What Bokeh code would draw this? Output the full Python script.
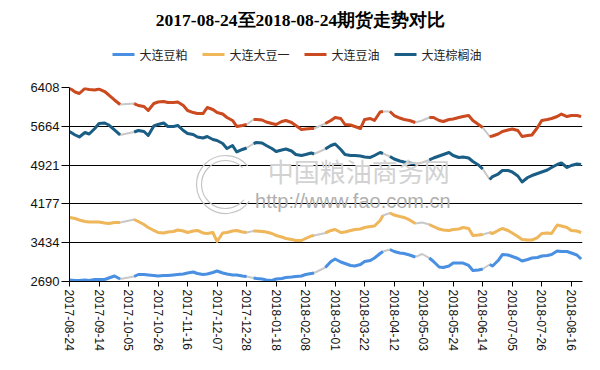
import pandas as pd
from bokeh.plotting import figure
from bokeh.layouts import column
from bokeh.models import (FixedTicker, DatetimeTickFormatter, Label, Range1d)
from bokeh.core.properties import value
from bokeh.embed import file_html
from bokeh.resources import INLINE

# ---------------- data ----------------
title_text = "2017-08-24至2018-08-24期货走势对比"
series_names = ["大连豆粕", "大连大豆一", "大连豆油", "大连棕榈油"]

dates = [
    "2017-08-24", "2017-08-28", "2017-08-31", "2017-09-04", "2017-09-07", "2017-09-11",
    "2017-09-14", "2017-09-18", "2017-09-21", "2017-09-25", "2017-09-29",
    "2017-10-09", "2017-10-12", "2017-10-16", "2017-10-19", "2017-10-23", "2017-10-26",
    "2017-10-30", "2017-11-02", "2017-11-06", "2017-11-09", "2017-11-13", "2017-11-16",
    "2017-11-20", "2017-11-23", "2017-11-27", "2017-11-30", "2017-12-04", "2017-12-07",
    "2017-12-11", "2017-12-14", "2017-12-18", "2017-12-21", "2017-12-25", "2017-12-28",
    "2018-01-02", "2018-01-04", "2018-01-08", "2018-01-11", "2018-01-15", "2018-01-18",
    "2018-01-22", "2018-01-25", "2018-01-29", "2018-02-01", "2018-02-05", "2018-02-08",
    "2018-02-12", "2018-02-14",
    "2018-02-22", "2018-02-26", "2018-03-01", "2018-03-05", "2018-03-08", "2018-03-12",
    "2018-03-15", "2018-03-19", "2018-03-22", "2018-03-26", "2018-03-29", "2018-04-02",
    "2018-04-04",
    "2018-04-09", "2018-04-12", "2018-04-16", "2018-04-19", "2018-04-23", "2018-04-27",
    "2018-05-02", "2018-05-07", "2018-05-10", "2018-05-14", "2018-05-17", "2018-05-21",
    "2018-05-24", "2018-05-28", "2018-05-31", "2018-06-04", "2018-06-07", "2018-06-11",
    "2018-06-14",
    "2018-06-19", "2018-06-21", "2018-06-25", "2018-06-28", "2018-07-02", "2018-07-05",
    "2018-07-09", "2018-07-12", "2018-07-16", "2018-07-19", "2018-07-23", "2018-07-26",
    "2018-07-30", "2018-08-02", "2018-08-06", "2018-08-09", "2018-08-13", "2018-08-16",
    "2018-08-20", "2018-08-23",
]

soy_meal = [  # 大连豆粕
    2719, 2709, 2709, 2719, 2709, 2728, 2728, 2728, 2757, 2795, 2738,
    2786, 2824, 2824, 2815, 2805, 2795, 2805, 2805, 2815, 2824, 2834, 2853, 2872, 2843,
    2824, 2834, 2862, 2891, 2853, 2834, 2815, 2815, 2795, 2786,
    2757, 2747, 2738, 2719, 2709, 2738, 2747, 2767, 2776, 2786, 2795, 2824, 2843, 2853,
    2958, 3073, 3121, 3064, 3035, 2997, 2987, 3016, 3073, 3092, 3140, 3227, 3265,
    3303, 3265, 3236, 3227, 3198, 3160,
    3217, 3140, 3073, 2968, 2958, 2987, 3044, 3044, 3044, 2997, 2901, 2910, 2930,
    3016, 2987, 3092, 3207, 3198, 3169, 3131, 3083, 3112, 3140, 3150, 3179, 3188, 3207,
    3275, 3265, 3265, 3236, 3198, 3121,
]

soybean_no1 = [  # 大连大豆一
    3917, 3897, 3869, 3840, 3830, 3830, 3830, 3811, 3802, 3821, 3821,
    3878, 3840, 3782, 3725, 3668, 3629, 3620, 3639, 3648, 3677, 3658, 3629, 3658, 3668,
    3620, 3610, 3629, 3457, 3620, 3629, 3658, 3668, 3639, 3629,
    3658, 3658, 3648, 3639, 3610, 3572, 3543, 3514, 3495, 3476, 3476, 3514, 3562, 3572,
    3620, 3668, 3687, 3629, 3639, 3668, 3687, 3696, 3725, 3744, 3754, 3859, 3955,
    4003, 3964, 3936, 3917, 3869, 3802,
    3821, 3782, 3744, 3696, 3677, 3668, 3687, 3696, 3725, 3706, 3572, 3581, 3591,
    3629, 3610, 3668, 3706, 3668, 3620, 3553, 3495, 3485, 3485, 3533, 3610, 3620, 3610,
    3773, 3754, 3725, 3668, 3658, 3629,
]

soy_oil = [  # 大连豆油
    6398, 6322, 6293, 6389, 6370, 6360, 6379, 6331, 6264, 6169, 6082,
    6101, 6063, 6044, 5967, 6101, 6130, 6140, 6120, 6120, 6130, 6063, 5967, 5928, 5909,
    5909, 6025, 5986, 5928, 5900, 5833, 5776, 5661, 5680, 5699,
    5795, 5795, 5785, 5747, 5718, 5699, 5756, 5776, 5737, 5680, 5603, 5613, 5622, 5622,
    5718, 5776, 5833, 5814, 5699, 5689, 5661, 5622, 5795, 5814, 5776, 5938, 5948,
    5948, 5871, 5823, 5795, 5776, 5737,
    5776, 5833, 5833, 5776, 5756, 5795, 5804, 5833, 5852, 5871, 5776, 5699, 5641,
    5469, 5478, 5517, 5565, 5593, 5613, 5584, 5469, 5488, 5498, 5641, 5776, 5795, 5814,
    5852, 5900, 5852, 5871, 5871, 5852,
]

palm_oil = [  # 大连棕榈油
    5565, 5498, 5460, 5546, 5517, 5622, 5718, 5728, 5689, 5594, 5498,
    5555, 5584, 5565, 5488, 5670, 5699, 5728, 5661, 5661, 5680, 5584, 5526, 5507, 5460,
    5440, 5469, 5412, 5392, 5335, 5239, 5296, 5172, 5220, 5249,
    5335, 5354, 5344, 5296, 5239, 5182, 5210, 5229, 5191, 5124, 5105, 5124, 5153, 5134,
    5229, 5296, 5325, 5220, 5124, 5105, 5105, 5095, 5076, 5067, 5105, 5162, 5143,
    5086, 5038, 4999, 4980, 4961, 4942,
    4971, 5019, 5057, 5095, 5124, 5162, 5105, 5067, 5076, 5057, 4990, 4923, 4846,
    4645, 4702, 4750, 4817, 4817, 4789, 4712, 4597, 4683, 4721, 4760, 4789, 4827, 4875,
    4932, 4961, 4875, 4913, 4942, 4932,
]

x_tick_labels = [
    "2017-08-24", "2017-09-14", "2017-10-05", "2017-10-26", "2017-11-16", "2017-12-07",
    "2017-12-28", "2018-01-18", "2018-02-08", "2018-03-01", "2018-03-22", "2018-04-12",
    "2018-05-03", "2018-05-24", "2018-06-14", "2018-07-05", "2018-07-26", "2018-08-16",
]
y_tick_values = [2690, 3434, 4177, 4921, 5664, 6408]
x_start, x_end = "2017-08-24", "2018-08-24"

series_values = [soy_meal, soybean_no1, soy_oil, palm_oil]
series_colors = ["#4a90e2", "#f0b65a", "#cc4a1f", "#1b5e85"]
gap_color = "#c8c8c8"

# ---------------- layout constants (pixels) ----------------
W = 598
HEAD_H = 75
MAIN_H = 293
FRAME_L, FRAME_R = 69, 582

# ---------------- header: title + legend (pixel coordinates) ----------------
head = figure(width=W, height=HEAD_H, output_backend="svg", toolbar_location=None,
              x_range=Range1d(FRAME_L, FRAME_R), y_range=Range1d(0, HEAD_H),
              x_axis_location=None, y_axis_location=None,
              min_border_left=FRAME_L, min_border_right=W - FRAME_R,
              min_border_top=0, min_border_bottom=0)
head.grid.visible = False
head.outline_line_color = None
head.add_layout(Label(x=300, y=HEAD_H - 19.5, text=title_text,
                      text_font="Liberation Serif", text_font_size="17.5px",
                      text_font_style="bold", text_color="#000000",
                      text_align="center", text_baseline="middle"))

leg_y = HEAD_H - 54
cx = 112
for name, col in zip(series_names, series_colors):
    head.line(x=[cx, cx + 22], y=[leg_y, leg_y], line_color=col, line_width=3)
    head.text(x=[cx + 27], y=[leg_y], text=[name], text_font=value("Noto Sans CJK SC"),
              text_font_size="12px", text_color="#222222",
              text_baseline="middle", text_align="left")
    cx += 22 + 5 + 12 * len(name) + 15

# ---------------- main chart ----------------
p = figure(width=W, height=MAIN_H, x_axis_type="datetime",
           output_backend="svg", toolbar_location=None,
           x_range=Range1d(pd.Timestamp(x_start), pd.Timestamp(x_end)),
           y_range=Range1d(y_tick_values[0], y_tick_values[-1]),
           min_border_left=FRAME_L, min_border_right=W - FRAME_R,
           min_border_top=12, min_border_bottom=87)
p.outline_line_color = None
p.background_fill_color = "white"
p.border_fill_color = "white"

x = pd.to_datetime(dates)

# watermark (decorative)
wm_font = "Noto Sans CJK SC"
p.arc(x=[pd.Timestamp("2017-12-13")], y=[4549], radius=29, radius_units="screen",
      start_angle=40, end_angle=325, start_angle_units="deg", end_angle_units="deg",
      line_color="#c4c4c4", line_width=1.2)
p.arc(x=[pd.Timestamp("2017-12-13")], y=[4549], radius=24, radius_units="screen",
      start_angle=45, end_angle=320, start_angle_units="deg", end_angle_units="deg",
      line_color="#c4c4c4", line_width=1.2)
p.add_layout(Label(x=pd.Timestamp("2018-01-12"), y=4817, text="中国粮油商务网",
                   text_font=wm_font, text_font_size="26px", text_color="#d2d2d2",
                   text_baseline="middle", text_align="left"))
p.add_layout(Label(x=pd.Timestamp("2018-01-03"), y=4242, text="http://www.fao.com.cn",
                   text_font="Liberation Sans", text_font_size="20px", text_color="#b0b0b0",
                   text_baseline="middle", text_align="left"))

# grey connectors below, coloured trading runs on top
for vals in series_values:
    p.line(x, vals, line_color=gap_color, line_width=2)

breaks = [0] + [i for i in range(1, len(x)) if (x[i] - x[i - 1]).days >= 5] + [len(x)]
for vals, col in zip(series_values, series_colors):
    for a, b in zip(breaks[:-1], breaks[1:]):
        p.line(x[a:b], vals[a:b], line_color=col, line_width=3, line_join="round")

# axes
p.xgrid.grid_line_color = None
p.ygrid.grid_line_color = "#000000"
p.ygrid.grid_line_width = 1
p.ygrid.ticker = FixedTicker(ticks=y_tick_values)

p.yaxis.ticker = FixedTicker(ticks=y_tick_values)
p.yaxis.axis_line_color = "#000000"
p.yaxis.major_tick_line_color = "#000000"
p.yaxis.major_tick_out = 8
p.yaxis.major_tick_in = 0
p.yaxis.minor_tick_line_color = None
p.yaxis.major_label_standoff = 2
p.yaxis.major_label_text_font = "Liberation Sans"
p.yaxis.major_label_text_font_size = "13px"
p.yaxis.major_label_text_color = "#111111"

x_ticks_ms = [int(pd.Timestamp(d).value // 10**6) for d in x_tick_labels]
p.xaxis.ticker = FixedTicker(ticks=x_ticks_ms)
fmt = "%Y-%m-%d"
p.xaxis.formatter = DatetimeTickFormatter(days=fmt, months=fmt, years=fmt, hours=fmt,
                                          hourmin=fmt, minutes=fmt, minsec=fmt,
                                          seconds=fmt, milliseconds=fmt, microseconds=fmt)
p.xaxis.major_label_orientation = "vertical"
p.xaxis.axis_line_color = "#000000"
p.xaxis.major_tick_line_color = "#000000"
p.xaxis.major_tick_out = 5
p.xaxis.major_tick_in = 0
p.xaxis.minor_tick_line_color = None
p.xaxis.major_label_standoff = 3
p.xaxis.major_label_text_font = "Liberation Sans"
p.xaxis.major_label_text_font_size = "12px"
p.xaxis.major_label_text_color = "#111111"

layout = column(head, p, spacing=0)
open("out.html", "w").write(file_html(layout, INLINE))
